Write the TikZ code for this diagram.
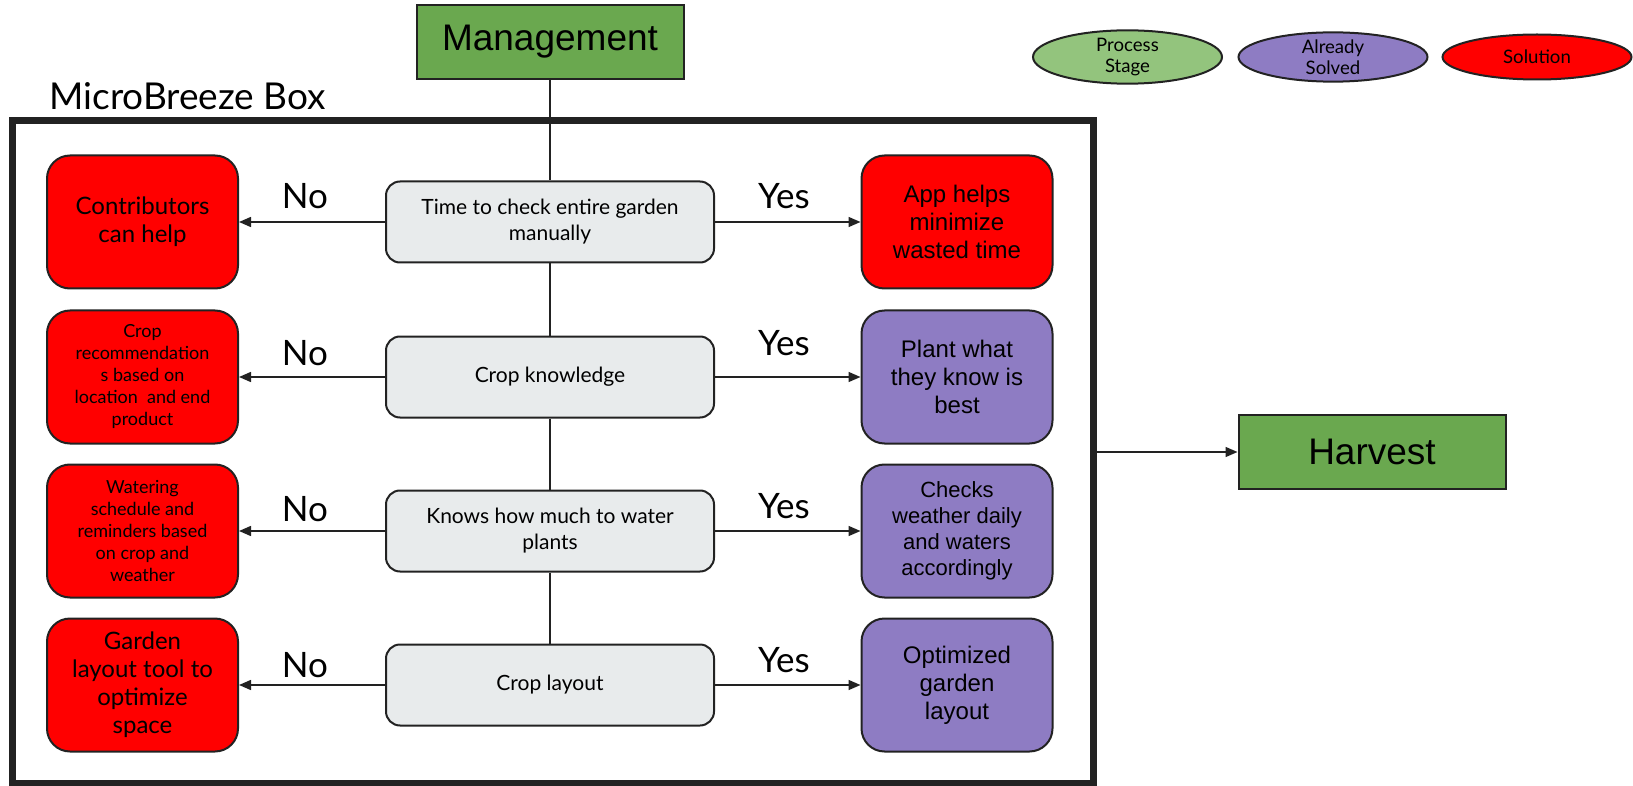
\documentclass[tikz,border=0pt]{standalone}
\usepackage{fontspec}
\setmainfont{Lato}
\newfontfamily\arialfont{Liberation Sans}
\usetikzlibrary{arrows.meta,shapes.geometric}

\definecolor{solred}{HTML}{FF0000}
\definecolor{solvedpurple}{HTML}{8E7CC3}
\definecolor{stagegreen}{HTML}{6AA84F}
\definecolor{legendgreen}{HTML}{93C47D}
\definecolor{questiongray}{HTML}{E8EBEC}
\definecolor{edgegray}{HTML}{222222}

\begin{document}
\begin{tikzpicture}[x=0.5pt,y=-0.5pt,
	stagebox/.style={draw=edgegray,line width=1pt,fill=stagegreen,minimum width=133.5pt,minimum height=37pt,inner sep=0pt,font=\arialfont\fontsize{18.5pt}{22pt}\selectfont},
	question/.style={draw=edgegray,line width=1pt,fill=questiongray,rounded corners=7pt,minimum width=164pt,minimum height=40.5pt,inner sep=0pt,align=center,font=\fontsize{10.5pt}{13pt}\selectfont},
	answerbox/.style={draw=edgegray,line width=1pt,rounded corners=11.5pt,minimum width=95.5pt,minimum height=66.5pt,inner sep=0pt,align=center},
	solution/.style={answerbox,fill=solred},
	solved/.style={answerbox,fill=solvedpurple},
	legend/.style={ellipse,draw=edgegray,line width=1pt,minimum width=94.5pt,minimum height=22.5pt,inner sep=0pt,align=center,font=\fontsize{9.3pt}{10.5pt}\selectfont},
	answer/.style={anchor=base,inner sep=0pt,font=\fontsize{17.5pt}{20pt}\selectfont},
	link/.style={draw=edgegray,line width=0.75pt},
	arrow/.style={link,-{Triangle[length=6pt,width=5pt]}}
	]
	\useasboundingbox (0,0) rectangle (1633,786);

	% outer box
	\node[draw=edgegray,line width=3.5pt,minimum width=540.5pt,minimum height=331pt,inner sep=0pt] (mbox) at (552.5,452) {};
	\node[anchor=base west,inner sep=0pt,font=\fontsize{18.5pt}{20pt}\selectfont] (boxtitle) at (49,110) {MicroBreeze Box};

	% legend
	\node[legend,fill=legendgreen] (lstage) at (1127.5,57) {Process\\Stage};
	\node[legend,fill=solvedpurple] (lsolved) at (1333,57) {Already\\Solved};
	\node[legend,fill=solred] (lsolution) at (1537,57) {Solution};

	% stages
	\node[stagebox] (mgmt) at (550,42) {Management};
	\node[stagebox] (harvest) at (1372,452) {Harvest};

	% questions
	\node[question] (q1) at (550,222) {Time to check entire garden\\manually};
	\node[question] (q2) at (550,377) {Crop knowledge};
	\node[question] (q3) at (550,531) {Knows how much to water\\plants};
	\node[question] (q4) at (550,685) {Crop layout};

	% no answers
	\node[solution,font=\fontsize{12pt}{14pt}\selectfont] (no1) at (142.5,222) {Contributors\\can help};
	\node[solution,font=\fontsize{9pt}{11pt}\selectfont] (no2) at (142.5,377) {Crop\\recommendation\\s based on\\location\ \ and end\\product};
	\node[solution,font=\fontsize{9pt}{11pt}\selectfont] (no3) at (142.5,531) {Watering\\schedule and\\reminders based\\on crop and\\weather};
	\node[solution,font=\fontsize{12pt}{14pt}\selectfont] (no4) at (142.5,685) {Garden\\layout tool to\\optimize\\space};

	% yes answers
	\node[solution,font=\arialfont\fontsize{12pt}{14pt}\selectfont] (yes1) at (957,222) {App helps\\minimize\\wasted time};
	\node[solved,font=\arialfont\fontsize{12pt}{14pt}\selectfont] (yes2) at (957,377) {Plant what\\they know is\\best};
	\node[solved,font=\arialfont\fontsize{11pt}{13pt}\selectfont] (yes3) at (957,531) {Checks\\weather daily\\and waters\\accordingly};
	\node[solved,font=\arialfont\fontsize{12pt}{14pt}\selectfont] (yes4) at (957,685) {Optimized\\garden\\layout};

	% main line
	\draw[link] (mgmt.south) -- (q1.north);
	\draw[link] (q1.south) -- (q2.north);
	\draw[link] (q2.south) -- (q3.north);
	\draw[link] (q3.south) -- (q4.north);

	% branches
	\foreach \i in {1,...,4} {
		\draw[arrow] (q\i.west) -- (no\i.east);
		\draw[arrow] (q\i.east) -- (yes\i.west);
	}
	\draw[arrow] (mbox.east) -- (harvest.west);

	% labels
	\node[answer] (nolab1) at (305,209) {No};
	\node[answer] (nolab2) at (305,365) {No};
	\node[answer] (nolab3) at (305,521) {No};
	\node[answer] (nolab4) at (305,677) {No};
	\node[answer] (yeslab1) at (784,209) {Yes};
	\node[answer] (yeslab2) at (784,355) {Yes};
	\node[answer] (yeslab3) at (784,518) {Yes};
	\node[answer] (yeslab4) at (784,672) {Yes};

\end{tikzpicture}
\end{document}
